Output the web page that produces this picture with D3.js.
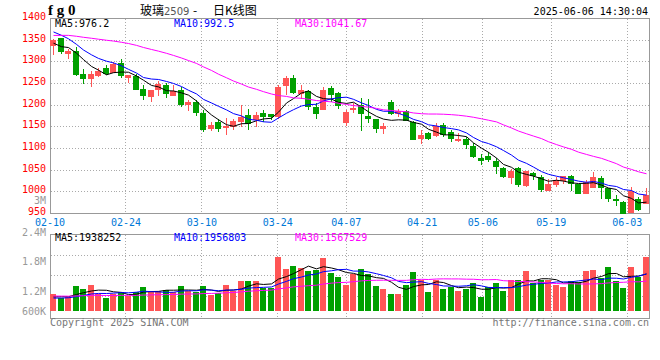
<!DOCTYPE html>
<html>
<head>
<meta charset="utf-8">
<script src="https://cdn.jsdelivr.net/npm/d3@7"></script>
<style>
body{margin:0;background:#fff;}
svg{display:block;}
text{font-family:"DejaVu Sans Mono",monospace;font-size:10px;}
</style>
</head>
<body>
<svg id="chart" width="660" height="360"></svg>
<script>
// trading days shown on the chart
var dates = ["02-10","02-11","02-12","02-13","02-14","02-17","02-18","02-19","02-20","02-21",
    "02-24","02-25","02-26","02-27","02-28","03-03","03-04","03-05","03-06","03-07",
    "03-10","03-11","03-12","03-13","03-14","03-17","03-18","03-19","03-20","03-21",
    "03-24","03-25","03-26","03-27","03-28","03-31","04-01","04-02","04-03",
    "04-07","04-08","04-09","04-10","04-11","04-14","04-15","04-16","04-17","04-18",
    "04-21","04-22","04-23","04-24","04-25","04-28","04-29","04-30",
    "05-06","05-07","05-08","05-09","05-12","05-13","05-14","05-15","05-16",
    "05-19","05-20","05-21","05-22","05-23","05-26","05-27","05-28","05-29","05-30",
    "06-03","06-04","06-05","06-06"];

var openP = [1337,1354,1318,1325,1271,1260,1267,1286,1275,1297,
    1262,1267,1238,1220,1235,1246,1221,1236,1200,1208,
    1183,1146,1161,1147,1150,1161,1177,1166,1182,1179,
    1172,1244,1262,1225,1233,1195,1188,1240,1228,1160,
    1190,1200,1175,1167,1146,1208,1179,1187,1162,1121,
    1136,1128,1155,1137,1118,1121,1106,1078,1083,1071,
    1055,1032,1055,1013,1044,1035,1002,1015,1025,1037,
    1017,996,1010,1031,1008,983,977,952,983,973];
var highP = [1352,1356,1329,1335,1283,1280,1285,1292,1300,1306,
    1269,1273,1246,1236,1256,1251,1246,1241,1213,1213,
    1188,1162,1169,1170,1169,1200,1192,1185,1189,1180,
    1246,1268,1269,1246,1236,1204,1242,1244,1231,1189,
    1205,1217,1214,1169,1160,1211,1192,1189,1164,1142,
    1139,1159,1159,1142,1135,1127,1112,1088,1091,1077,
    1058,1052,1058,1048,1046,1039,1029,1035,1037,1039,
    1018,1027,1046,1037,1009,992,979,1012,989,1009];
var lowP = [1315,1317,1306,1267,1250,1241,1264,1269,1275,1262,
    1252,1234,1211,1207,1222,1217,1221,1195,1187,1175,
    1138,1141,1138,1131,1142,1150,1142,1150,1162,1165,
    1169,1223,1225,1215,1189,1167,1188,1208,1191,1152,
    1183,1140,1158,1136,1133,1177,1173,1163,1119,1111,
    1119,1127,1127,1115,1114,1098,1077,1062,1068,1042,
    1031,1019,1012,1012,1027,1000,1001,1012,1017,1002,
    995,995,1009,983,977,968,948,952,955,971];
var closeP = [1350,1322,1325,1269,1260,1271,1279,1271,1294,1267,
    1269,1236,1222,1234,1250,1225,1233,1200,1208,1183,
    1142,1154,1145,1151,1164,1172,1156,1177,1172,1172,
    1242,1262,1228,1236,1196,1179,1236,1223,1198,1184,
    1193,1180,1168,1146,1152,1179,1186,1164,1120,1131,
    1121,1153,1132,1121,1123,1108,1081,1071,1073,1057,
    1034,1048,1015,1047,1037,1004,1019,1027,1037,1017,
    996,1022,1034,1009,983,979,950,1003,957,992];
var volume = [894000,665000,707000,1303000,1160000,1356000,894000,665000,894000,1000000,
    771000,984000,1250000,1037000,1037000,1090000,984000,1303000,1037000,984000,
    1303000,808000,947000,1356000,1037000,1572000,1565000,1569000,1181000,1184000,
    2862000,2223000,2367000,2245000,2101000,2138000,2808000,2011000,1782000,1356000,
    1925000,2223000,1925000,1303000,1160000,894000,894000,1356000,2064000,1606000,
    1000000,1606000,1160000,1266000,1037000,1160000,1479000,718000,1250000,1479000,
    1037000,1622000,1622000,2101000,1479000,1622000,1622000,1356000,1250000,1569000,
    1516000,2101000,2154000,1713000,2314000,1569000,1213000,2290000,1782000,2850000];

// 29 sessions before 02-10, estimated from where the MA curves start
var preClose = [1318,1325,1332,1330,1338,1345,1342,1350,1352,1355,1364,
    1368,1372,1366,1375,1380,1378,1384,1382,1382,
    1400,1405,1398,1390,1382,1362,1335,1334,1334];
var preVolume = [780000,850000,920000,800000,760000,880000,950000,830000,790000,860000,
    900000,810000,740000,820000,880000,790000,760000,840000,800000,750000,
    620000,580000,660000,550000,580000,610000,700000,720000,680000];

var tickDates = ["02-10","02-24","03-10","03-24","04-07","04-21","05-06","05-19","06-03"];
var priceTicks = [1400,1350,1300,1250,1200,1150,1100,1050,1000,950];
var volTickLabels = ["2.4M","1.8M","1.2M","600K"];
var maPeriods = [5,10,30];
var maColors = ["#000000","#0000ff","#ff00ff"];
var priceMaNow = ["976.2","992.5","1041.67"];
var volMaNow = ["1938252","1956803","1567529"];

var svg = d3.select("#chart");
var LEFT = 50.5, RIGHT = 649.5;
var P_TOP = 18.5, P_BOTTOM = 213.5;
var V_TOP = 234.5, V_BOTTOM = 318.5;
var RED = "#ff5555", GREEN = "#00a000";

var xBand = d3.scaleBand().domain(dates).range([50, 650]);
var xGrid = d3.scaleLinear().domain([0, dates.length - 1]).range([50, 650]);
var yPrice = d3.scaleLinear().domain([950, 1400]).range([P_BOTTOM, P_TOP]);
var yVol = d3.scaleLinear().domain([0, 4000000]).range([310.5, 235.3]);
var yVolGrid = d3.scaleLinear().domain([0, 4]).range([316.5, 234.5]);

function cx(i) {
    return Math.round(xBand(dates[i])) + 3;
}

function movingAvg(pre, vals, n) {
    var all = pre.concat(vals);
    var off = pre.length;
    return vals.map(function (v, i) {
        return d3.mean(all.slice(off + i - n + 1, off + i + 1));
    });
}

// header
svg.append("text").text("f g 0")
    .attr("x", 48).attr("y", 15)
    .style("font-family", "'Liberation Serif',serif").style("font-weight", "bold")
    .style("font-size", "15px");
var title = svg.append("text").attr("y", 15)
    .style("font-family", "'Noto Sans CJK SC',sans-serif").style("font-size", "12px");
title.append("tspan").attr("x", 140).text("玻璃");
title.append("tspan").attr("x", 164).style("font-size", "10px").attr("fill", "#555")
    .style("font-family", "'DejaVu Sans',sans-serif").text("2509");
title.append("tspan").attr("x", 193).text("-");
title.append("tspan").attr("x", 213).text("日K线图");
svg.append("text").text("2025-06-06 14:30:04")
    .attr("x", 648).attr("y", 15).attr("text-anchor", "end").attr("fill", "#000");

// grids
var grid = svg.append("g").attr("stroke", "#aaa").attr("stroke-dasharray", "1,2")
    .attr("shape-rendering", "crispEdges");
priceTicks.slice(1, -1).forEach(function (v) {
    var y = Math.floor(yPrice(v)) + 0.5;
    grid.append("line").attr("x1", LEFT).attr("x2", RIGHT).attr("y1", y).attr("y2", y);
});
[1, 2, 3].forEach(function (k) {
    var y = Math.floor(yVolGrid(k)) + 0.5;
    grid.append("line").attr("x1", LEFT).attr("x2", RIGHT).attr("y1", y).attr("y2", y);
});
tickDates.slice(1).forEach(function (d) {
    var x = Math.floor(xGrid(dates.indexOf(d))) + 0.5;
    grid.append("line").attr("x1", x).attr("x2", x).attr("y1", P_TOP).attr("y2", P_BOTTOM);
    grid.append("line").attr("x1", x).attr("x2", x).attr("y1", V_TOP).attr("y2", V_BOTTOM);
});

// panel frames
var frame = svg.append("g").attr("fill", "none").attr("stroke", "#999")
    .attr("shape-rendering", "crispEdges");
frame.append("rect").attr("x", LEFT).attr("y", P_TOP)
    .attr("width", RIGHT - LEFT).attr("height", P_BOTTOM - P_TOP);
frame.append("rect").attr("x", LEFT).attr("y", V_TOP)
    .attr("width", RIGHT - LEFT).attr("height", V_BOTTOM - V_TOP);

// axis labels
svg.append("g").selectAll("text").data(priceTicks).enter().append("text")
    .text(function (d) { return d; })
    .attr("x", 46).attr("y", function (d) { return yPrice(d) - 2; })
    .attr("dy", "0.35em").attr("text-anchor", "end").attr("fill", "#ff0000");
svg.append("text").text("3M").attr("x", 46).attr("y", 200).attr("dy", "0.35em")
    .attr("text-anchor", "end").attr("fill", "#999");
var volLabelY = [232, 261, 291, 311];
svg.append("g").selectAll("text").data(volTickLabels).enter().append("text")
    .text(function (d) { return d; })
    .attr("x", 46).attr("y", function (d, i) { return volLabelY[i]; })
    .attr("dy", "0.35em").attr("text-anchor", "end").attr("fill", "#999");
svg.append("g").selectAll("text").data(tickDates).enter().append("text")
    .text(function (d) { return d; })
    .attr("x", function (d) { return xGrid(dates.indexOf(d)); })
    .attr("y", 222).attr("dy", "0.35em").attr("text-anchor", "middle")
    .attr("fill", "#0078d7");

// candles
var candles = svg.append("g").attr("shape-rendering", "crispEdges");
dates.forEach(function (d, i) {
    var up = closeP[i] >= openP[i];
    var col = up ? RED : GREEN;
    var yh = Math.round(yPrice(highP[i])), yl = Math.round(yPrice(lowP[i]));
    candles.append("rect").attr("x", cx(i)).attr("width", 1)
        .attr("y", yh).attr("height", Math.max(1, yl - yh)).attr("fill", col);
    var yt = Math.round(yPrice(Math.max(openP[i], closeP[i])));
    var yb = Math.round(yPrice(Math.min(openP[i], closeP[i])));
    candles.append("rect").attr("x", cx(i) - 3).attr("width", 6)
        .attr("y", yt).attr("height", Math.max(1, yb - yt)).attr("fill", col);
});

// volume bars
var bars = svg.append("g").attr("shape-rendering", "crispEdges");
dates.forEach(function (d, i) {
    var y = Math.round(yVol(volume[i]));
    bars.append("rect").attr("x", cx(i) - 3).attr("width", 6)
        .attr("y", y).attr("height", Math.round(yVol(0)) - y)
        .attr("fill", closeP[i] >= openP[i] ? RED : GREEN);
});

// moving averages
maPeriods.forEach(function (n, k) {
    var pm = movingAvg(preClose, closeP, n);
    var vm = movingAvg(preVolume, volume, n);
    svg.append("path").datum(pm)
        .attr("d", d3.line().x(function (v, i) { return cx(i) + 0.5; }).y(function (v) { return yPrice(v); }))
        .attr("fill", "none").attr("stroke", maColors[k]).attr("stroke-width", 1);
    svg.append("path").datum(vm)
        .attr("d", d3.line().x(function (v, i) { return cx(i) + 0.5; }).y(function (v) { return yVol(v); }))
        .attr("fill", "none").attr("stroke", maColors[k]).attr("stroke-width", 1);
});

// legends
var legendX = [55, 174, 295];
maPeriods.forEach(function (n, k) {
    svg.append("text").text("MA" + n + ":" + priceMaNow[k])
        .attr("x", legendX[k]).attr("y", 27).attr("fill", maColors[k]);
    svg.append("text").text("MA" + n + ":" + volMaNow[k])
        .attr("x", legendX[k]).attr("y", 241).attr("fill", maColors[k]);
});

// footer
svg.append("text").text("Copyright 2025 SINA.COM")
    .attr("x", 50).attr("y", 326).attr("fill", "#777");
svg.append("text").text("http://finance.sina.com.cn")
    .attr("x", 649).attr("y", 326).attr("text-anchor", "end").attr("fill", "#777");
</script>
</body>
</html>
